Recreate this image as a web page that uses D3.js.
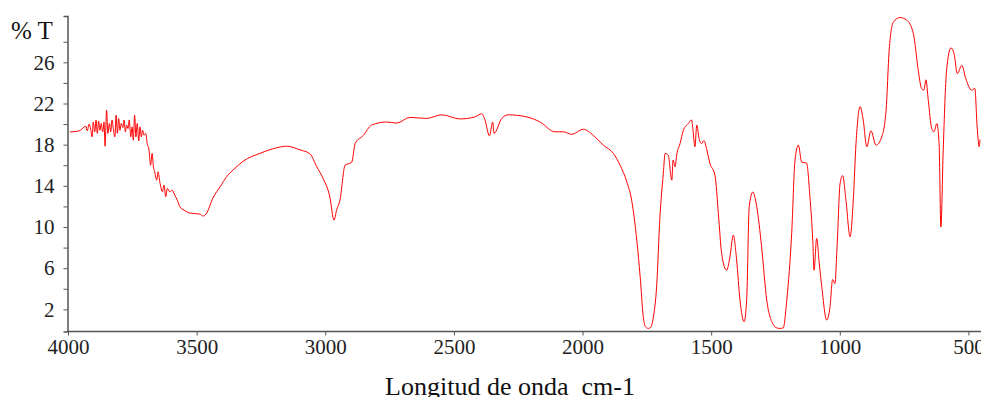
<meta charset="utf-8">
<title>IR spectrum</title>
<script src="https://d3js.org/d3.v7.min.js"></script>
<style>
  body { margin: 0; background: #fff; }
  text { font-family: "Liberation Serif", "DejaVu Serif", serif; }
</style>
<body>
<svg width="981" height="397"></svg>
<script>

  // wavenumber (cm-1), left to right
  const waveNumbers = [
    3992, 3964, 3951, 3938, 3931, 3925, 3918, 3912, 3906, 3902, 3896, 3891, 3886, 3881,
    3876, 3871, 3865, 3860, 3856, 3850, 3845, 3839, 3834, 3829, 3824, 3818, 3813, 3808,
    3803, 3798, 3793, 3787, 3782, 3777, 3772, 3767, 3762, 3756, 3751, 3746, 3741, 3736,
    3731, 3725, 3720, 3715, 3710, 3705, 3698, 3692, 3685, 3679, 3673, 3668, 3663, 3655,
    3650, 3642, 3633, 3627, 3620, 3614, 3604, 3595, 3585, 3575, 3565, 3549, 3530, 3513,
    3487, 3474, 3464, 3435, 3409, 3383, 3351, 3319, 3254, 3189, 3150, 3099, 3059, 3033,
    3008, 2982, 2966, 2956, 2943, 2923, 2897, 2884, 2852, 2820, 2761, 2722, 2671, 2606,
    2547, 2476, 2418, 2392, 2379, 2362, 2349, 2344, 2314, 2289, 2217, 2165, 2107, 2075,
    2042, 1997, 1958, 1919, 1880, 1854, 1828, 1809, 1789, 1776, 1764, 1755, 1744, 1735, 1725, 1712,
    1699, 1686, 1679, 1667, 1653, 1648, 1640, 1634, 1621, 1608, 1589, 1576, 1571, 1563,
    1556, 1547, 1537, 1528, 1517, 1505, 1485, 1472, 1459, 1440, 1427, 1414, 1401, 1388,
    1372, 1362, 1352, 1338, 1323, 1304, 1284, 1258, 1245, 1232, 1220, 1206, 1187, 1174, 1161, 1148,
    1129, 1116, 1105, 1100, 1090, 1080, 1070, 1051, 1038, 1028, 1019, 1010, 999, 989,
    976, 960, 947, 937, 921, 909, 895, 879, 859, 837, 820, 808, 792, 766,
    740, 714, 695, 682, 673, 665, 656, 643, 634, 623, 614, 607, 598, 585,
    568, 556, 543, 526, 510, 488, 475, 466, 458, 455
  ]

  // % transmittance at each wavenumber
  const transmittance = [
    19.24, 19.3, 19.4, 19.7, 19.8, 19.34, 20.0, 19.5, 18.76, 20.2, 19.24, 20.4, 19.1, 20.3,
    19.4, 20.06, 19.24, 20.2, 17.85, 21.35, 19.1, 20.06, 19.24, 20.4, 19.57, 18.76, 20.86, 19.1,
    20.54, 19.4, 20.06, 19.67, 20.4, 19.24, 19.9, 19.57, 20.4, 18.76, 19.73, 18.44, 20.86, 18.76,
    20.06, 18.37, 19.73, 18.76, 19.4, 18.92, 19.1, 18.1, 17.47, 16.0, 17.15, 15.85, 15.36, 14.55,
    15.36, 14.23, 13.42, 14.07, 12.93, 13.75, 13.42, 13.58, 13.1, 12.6, 11.96, 11.64, 11.38, 11.32,
    11.25, 11.06, 11.25, 12.9, 13.9, 14.9, 15.7, 16.4, 17.15, 17.7, 17.85, 17.5, 17.1, 15.85,
    14.7, 12.9, 10.67, 11.64, 12.6, 16.0, 16.3, 18.1, 18.9, 19.9, 20.2, 20.1, 20.65, 20.55,
    20.9, 20.5, 20.7, 21.0, 20.4, 18.85, 20.2, 19.1, 20.55, 20.9, 20.7, 20.2, 19.25, 19.25,
    19.0, 19.5, 18.9, 17.95, 17.15, 16.0, 14.4, 12.6, 8.7, 5.2, 1.3, 0.3, 0.15, 0.25, 1.2, 4.2,
    11.0, 15.2, 17.15, 17.0, 14.55, 16.5, 15.85, 17.0, 18.1, 19.4, 20.05, 20.4, 19.5, 17.8,
    19.9, 18.6, 18.1, 18.4, 17.5, 16.2, 15.0, 11.3, 7.4, 5.8, 7.1, 9.2, 6.8, 2.9,
    0.8, 2.9, 12.0, 13.4, 12.0, 8.1, 2.9, 0.5, 0.2, 0.15, 0.2, 2.9, 9.4, 16.5, 17.95, 16.3,
    16.2, 12.9, 8.7, 5.8, 8.9, 6.5, 4.2, 0.96, 2.25, 4.9, 4.5, 8.4, 14.2, 15.0,
    12.6, 9.05, 12.9, 18.1, 21.7, 20.4, 17.8, 19.35, 17.95, 18.75, 21.35, 27.2, 29.9, 30.35,
    30.1, 28.8, 25.2, 23.45, 23.3, 24.3, 22.3, 19.6, 19.25, 20.05, 18.1, 10.0, 17.45, 25.2,
    27.4, 26.85, 24.9, 25.7, 24.4, 23.3, 23.45, 19.7, 17.8, 18.5
  ]

  const xTicks = [4000, 3500, 3000, 2500, 2000, 1500, 1000, 500]
  const yTicks = d3.range(2, 29, 2)          // tick every 2, label every 4
  const yLabels = [2, 6, 10, 14, 18, 22, 26]

  const svg = d3.select('svg')

  const x = d3.scaleLinear().domain([4000, 455]).range([68, 980])
  const y = d3.scaleLinear().domain([-0.15, 30.5]).range([331.5, 16])

  const xAxis = svg.append('g')
    .attr('transform', 'translate(0,331.5)')
    .call(d3.axisBottom(x).tickValues(xTicks).tickFormat(d3.format('d'))
      .tickSizeOuter(0).tickSize(4).tickPadding(4))

  const yAxis = svg.append('g')
    .attr('transform', 'translate(67.5,0)')
    .call(d3.axisLeft(y).tickValues(yTicks).tickSizeOuter(0).tickSize(4).tickPadding(9)
      .tickFormat(d => yLabels.includes(d) ? d : ''))

  // axis styling: grey lines, serif black labels
  ;[xAxis, yAxis].forEach(g => {
    g.select('.domain').attr('stroke', '#555').attr('stroke-width', 1.5)
    g.selectAll('.tick line').attr('stroke', '#555')
    g.selectAll('.tick text')
      .attr('fill', '#222')
      .style('font-size', '21px')
      .style('font-family', '"Liberation Serif", serif')
  })
  xAxis.select('.domain').attr('d', 'M67,0H981')

  const line = d3.line()
    .x((d, i) => x(waveNumbers[i]))
    .y(d => y(d))
    .curve(d3.curveMonotoneX)

  svg.append('path')
    .datum(transmittance)
    .attr('fill', 'none')
    .attr('stroke', '#ff0000')
    .attr('stroke-width', 1)
    .attr('d', line)

  svg.append('text')
    .attr('x', 11)
    .attr('y', 39)
    .style('font-size', '25px')
    .attr('fill', '#111')
    .text('% T')

  svg.append('text')
    .attr('x', 510)
    .attr('y', 395)
    .attr('text-anchor', 'middle')
    .style('font-size', '26px')
    .style('white-space', 'pre')
    .attr('fill', '#111')
    .text('Longitud de onda  cm-1')

</script>
</body>
